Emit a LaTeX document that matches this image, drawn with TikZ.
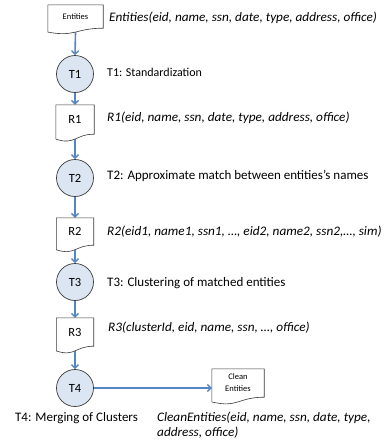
\documentclass[tikz,border=0pt]{standalone}
\usepackage{fontspec}
\setmainfont{Carlito}
\newfontfamily\wideit{Carlito}[FakeStretch=1.02]
\usetikzlibrary{calc,arrows.meta}
\definecolor{arrblue}{HTML}{5585C4}
\definecolor{circfill}{HTML}{DCE6F2}
\definecolor{edge}{HTML}{3A3A3A}
\tikzset{
  circ/.style={circle,draw=edge,line width=0.7pt,fill=circfill,minimum size=37pt,inner sep=0pt,font=\fontsize{12.5}{14}\selectfont},
  docbox/.style={rectangle,inner sep=0pt,align=center},
  docline/.style={draw=edge,line width=0.6pt,fill=white},
  arr/.style={draw=arrblue,line width=1.6pt,-{Straight Barb[length=3.5pt,width=7pt,line width=1.4pt]}},
  lbl/.style={anchor=west,inner sep=0pt,font=\fontsize{13}{15}\selectfont},
  ilbl/.style={anchor=west,inner sep=0pt,font=\fontsize{13}{15}\selectfont\wideit\itshape},
}
\newcommand{\docshape}[1]{%
  \path[docline] (#1.north west) -- (#1.north east) -- (#1.south east)
    .. controls (#1.south) and ($(#1.south)!0.384!($(#1.south)+(#1.south)-(#1.north)$)$)
    .. ($(#1.south west)!0.1675!($(#1.south west)+(#1.south west)-(#1.north west)$)$) -- cycle;}
\begin{document}
\begin{tikzpicture}[x=1pt,y=-1pt]
\useasboundingbox (0,0) rectangle (385,442);
% document boxes (geometry only)
\node[docbox,minimum width=55pt,minimum height=23pt] (E) at (75.5,16.5) {};
\node[docbox,minimum width=38pt,minimum height=29pt] (R1) at (75,119.5) {};
\node[docbox,minimum width=37pt,minimum height=27pt] (R2) at (75,231.5) {};
\node[docbox,minimum width=37pt,minimum height=28pt] (R3) at (75,332) {};
\node[docbox,minimum width=52pt,minimum height=28pt] (C) at (238,383) {};
% circles
\node[circ] (T1) at (75,74) {T1};
\node[circ] (T2) at (75,178) {T2};
\node[circ] (T3) at (75,282) {T3};
\node[circ] (T4) at (75,388) {T4};
% wave bottoms
\coordinate (Eb) at ($(E.south)+(0,4)$);
\coordinate (R1b) at ($(R1.south)+(0,4.8)$);
\coordinate (R2b) at ($(R2.south)+(0,4.5)$);
\coordinate (R3b) at ($(R3.south)+(0,4.6)$);
% arrows
\draw[arr] (Eb) -- (T1.north);
\draw[arr] (T1.south) -- (R1.north);
\draw[arr] (R1b) -- (T2.north);
\draw[arr] (T2.south) -- (R2.north);
\draw[arr] (R2b) -- (T3.north);
\draw[arr] (T3.south) -- (R3.north);
\draw[arr] (R3b) -- (T4.north);
\draw[arr] (T4.east) -- (T4.east -| C.west);
% document shapes
\docshape{E}
\docshape{R1}
\docshape{R2}
\docshape{R3}
\docshape{C}
\node[docbox,font=\fontsize{8.5}{10}\selectfont] at (E) {Entities};
\node[docbox,font=\fontsize{12.5}{14}\selectfont] at (R1) {R1};
\node[docbox,font=\fontsize{12.5}{14}\selectfont] at (R2) {R2};
\node[docbox,font=\fontsize{12.5}{14}\selectfont] at (R3) {R3};
\node[docbox,font=\fontsize{8.5}{12}\selectfont] at (C) {Clean\\Entities};
% labels
\node[ilbl] (Le) at (109,18) {Entities(eid, name, ssn, date, type, address, office)};
\node[lbl,font=\fontsize{12}{14}\selectfont] (L1) at (107,72) {T1: Standardization};
\node[ilbl] (Lr1) at (107,118) {R1(eid, name, ssn, date, type, address, office)};
\node[lbl] (L2) at (107,176) {T2: Approximate match between entities's names};
\node[ilbl] (Lr2) at (107,232) {R2(eid1, name1, ssn1, …, eid2, name2, ssn2,…, sim)};
\node[lbl] (L3) at (107,283) {T3: Clustering of matched entities};
\node[ilbl] (Lr3) at (108,328) {R3(clusterId, eid, name, ssn, …, office)};
\node[lbl,anchor=center] (L4) at (76.5,418) {T4: Merging of Clusters};
\node[ilbl,anchor=north west,align=left,font=\fontsize{13}{15}\selectfont\wideit\itshape] (Lc) at (157,412) {CleanEntities(eid, name, ssn, date, type,\\address, office)};
\end{tikzpicture}
\end{document}
